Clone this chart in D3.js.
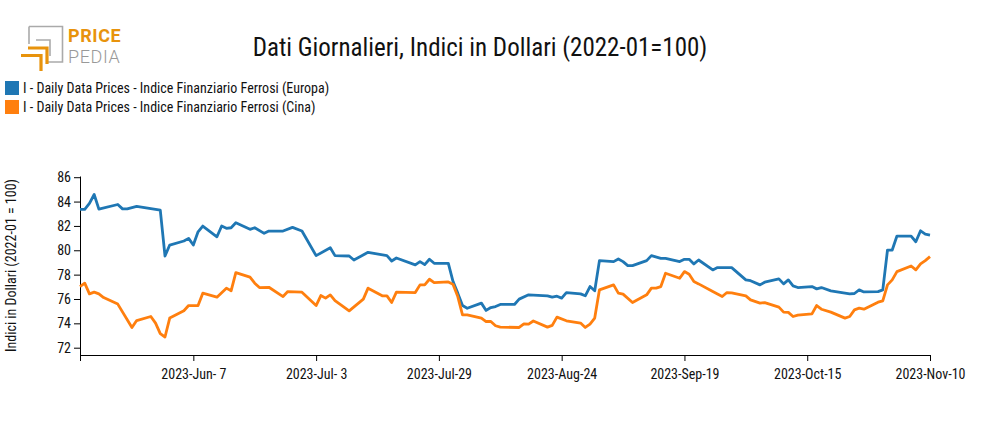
<!DOCTYPE html>
<html>
<head>
<meta charset="utf-8">
<script src="https://cdn.jsdelivr.net/npm/d3@7"></script>
<style>
  body { margin: 0; background: #fff; }
  svg { display: block; font-family: "Liberation Sans Narrow", "Roboto Condensed", "DejaVu Sans Condensed", sans-serif; }
</style>
</head>
<body>
<svg id="chart"></svg>
<script>
'use strict'

const WIDTH = 985;
const HEIGHT = 430;

const europeDates = [
  '2023-05-14','2023-05-15','2023-05-16','2023-05-17','2023-05-18','2023-05-22','2023-05-23','2023-05-24','2023-05-26','2023-05-31',
  '2023-06-01','2023-06-02','2023-06-05','2023-06-06','2023-06-07','2023-06-08','2023-06-09','2023-06-12','2023-06-13','2023-06-14',
  '2023-06-15','2023-06-16','2023-06-19','2023-06-20','2023-06-22','2023-06-23','2023-06-26','2023-06-28','2023-06-30','2023-07-03',
  '2023-07-06','2023-07-07','2023-07-10','2023-07-11','2023-07-14','2023-07-18','2023-07-19','2023-07-20','2023-07-24','2023-07-25',
  '2023-07-26','2023-07-27','2023-07-28','2023-07-31','2023-08-01','2023-08-02','2023-08-03','2023-08-04','2023-08-07','2023-08-08',
  '2023-08-09','2023-08-10','2023-08-11','2023-08-14','2023-08-15','2023-08-17','2023-08-21','2023-08-22','2023-08-23','2023-08-24',
  '2023-08-25','2023-08-28','2023-08-29','2023-08-30','2023-08-31','2023-09-01','2023-09-04','2023-09-05','2023-09-06','2023-09-07',
  '2023-09-08','2023-09-11','2023-09-12','2023-09-14','2023-09-15','2023-09-18','2023-09-19','2023-09-20','2023-09-21','2023-09-22',
  '2023-09-25','2023-09-26','2023-09-29','2023-10-02','2023-10-03','2023-10-05','2023-10-06','2023-10-09','2023-10-10','2023-10-11',
  '2023-10-12','2023-10-13','2023-10-16','2023-10-17','2023-10-18','2023-10-20','2023-10-24','2023-10-25','2023-10-26','2023-10-27',
  '2023-10-30','2023-10-31','2023-11-01','2023-11-02','2023-11-03','2023-11-06','2023-11-07','2023-11-08','2023-11-09','2023-11-10'
];
const europeValues = [
  83.36, 83.36, 83.85, 84.58, 83.38, 83.76, 83.40, 83.40, 83.60, 83.30,
  79.53, 80.43, 80.76, 80.98, 80.43, 81.52, 81.99, 81.11, 81.99, 81.80,
  81.85, 82.26, 81.72, 81.85, 81.39, 81.58, 81.58, 81.88, 81.58, 79.56,
  80.21, 79.56, 79.53, 79.20, 79.83, 79.56, 79.12, 79.37, 78.80, 79.07,
  78.82, 79.26, 78.93, 78.93, 77.43, 76.48, 75.46, 75.24, 75.66, 75.06,
  75.30, 75.38, 75.55, 75.55, 75.99, 76.34, 76.26, 76.15, 76.23, 76.07,
  76.53, 76.42, 76.26, 77.02, 76.67, 79.15, 79.07, 79.29, 79.07, 78.74,
  78.74, 79.15, 79.56, 79.34, 79.34, 79.07, 79.26, 79.26, 78.88, 79.20,
  78.39, 78.58, 78.58, 77.57, 77.50, 77.16, 77.38, 77.65, 77.24, 77.57,
  77.08, 76.94, 77.02, 76.83, 76.94, 76.67, 76.42, 76.45, 76.75, 76.58,
  76.61, 76.75, 80.02, 80.02, 81.17, 81.17, 80.70, 81.60, 81.33, 81.25
];

const chinaDates = [
  '2023-05-14','2023-05-15','2023-05-16','2023-05-17','2023-05-18','2023-05-19','2023-05-22','2023-05-25','2023-05-26','2023-05-29',
  '2023-05-30','2023-05-31','2023-06-01','2023-06-02','2023-06-05','2023-06-06','2023-06-08','2023-06-09','2023-06-12','2023-06-14',
  '2023-06-15','2023-06-16','2023-06-19','2023-06-20','2023-06-21','2023-06-23','2023-06-26','2023-06-27','2023-06-30','2023-07-03',
  '2023-07-04','2023-07-05','2023-07-06','2023-07-07','2023-07-10','2023-07-13','2023-07-14','2023-07-17','2023-07-18','2023-07-19',
  '2023-07-20','2023-07-24','2023-07-25','2023-07-26','2023-07-27','2023-07-28','2023-07-31','2023-08-01','2023-08-02','2023-08-03',
  '2023-08-04','2023-08-07','2023-08-08','2023-08-09','2023-08-10','2023-08-11','2023-08-15','2023-08-16','2023-08-17','2023-08-18',
  '2023-08-21','2023-08-22','2023-08-23','2023-08-25','2023-08-28','2023-08-29','2023-08-30','2023-08-31','2023-09-01','2023-09-04',
  '2023-09-05','2023-09-06','2023-09-08','2023-09-11','2023-09-12','2023-09-13','2023-09-14','2023-09-15','2023-09-18','2023-09-19',
  '2023-09-20','2023-09-21','2023-09-22','2023-09-25','2023-09-27','2023-09-28','2023-09-29','2023-10-02','2023-10-03','2023-10-05',
  '2023-10-06','2023-10-09','2023-10-10','2023-10-11','2023-10-12','2023-10-13','2023-10-16','2023-10-17','2023-10-18','2023-10-20',
  '2023-10-23','2023-10-24','2023-10-25','2023-10-26','2023-10-27','2023-10-30','2023-10-31','2023-11-01','2023-11-02','2023-11-03',
  '2023-11-06','2023-11-07','2023-11-08','2023-11-09','2023-11-10'
];
const chinaValues = [
  77.02, 77.30, 76.42, 76.56, 76.42, 76.12, 75.58, 73.66, 74.23, 74.56,
  74.02, 73.15, 72.88, 74.43, 75.03, 75.46, 75.46, 76.48, 76.15, 76.89,
  76.67, 78.17, 77.79, 77.30, 76.94, 76.96, 76.20, 76.61, 76.56, 75.46,
  76.28, 76.07, 76.34, 75.87, 75.03, 75.99, 76.89, 76.26, 76.26, 75.71,
  76.56, 76.53, 77.16, 77.16, 77.62, 77.35, 77.40, 77.20, 76.20, 74.70,
  74.70, 74.43, 74.15, 74.15, 73.80, 73.69, 73.66, 73.96, 73.93, 74.19,
  73.69, 73.83, 74.51, 74.21, 74.02, 73.66, 73.94, 74.43, 76.75, 77.16,
  76.48, 76.40, 75.71, 76.34, 76.89, 76.89, 77.02, 78.11, 77.70, 78.25,
  78.03, 77.43, 77.24, 76.61, 76.20, 76.53, 76.50, 76.26, 75.93, 75.66,
  75.70, 75.33, 74.92, 74.90, 74.56, 74.67, 74.78, 75.46, 75.16, 74.92,
  74.43, 74.56, 75.11, 75.25, 75.16, 75.74, 75.85, 77.16, 77.57, 78.25,
  78.71, 78.39, 78.88, 79.15, 79.48
];

const seriesNames = [
  'I - Daily Data Prices - Indice Finanziario Ferrosi (Europa)',
  'I - Daily Data Prices - Indice Finanziario Ferrosi (Cina)'
];
const seriesColors = ['#1f77b4', '#ff7f0e'];
const yTicks = [72, 74, 76, 78, 80, 82, 84, 86];
const xTickDates = ['2023-05-14','2023-06-07','2023-07-03','2023-07-29','2023-08-24','2023-09-19','2023-10-15','2023-11-10'];

const parse = d3.timeParse('%Y-%m-%d');
const series = [
  europeDates.map((d, i) => ({date: parse(d), value: europeValues[i]})),
  chinaDates.map((d, i) => ({date: parse(d), value: chinaValues[i]}))
];

const margin = {left: 80, right: 55, top: 176, bottom: 75};
const plotW = WIDTH - margin.left - margin.right;
const plotH = HEIGHT - margin.top - margin.bottom;

const svg = d3.select('#chart')
  .attr('width', WIDTH)
  .attr('height', HEIGHT);

// logo
const logo = svg.append('g');
logo.append('path')
  .attr('d', 'M29,26.5 H62.5 V62 H46 M29,26.5 V44')
  .attr('fill', 'none').attr('stroke', '#aaa').attr('stroke-width', 1.6);
logo.append('path')
  .attr('d', 'M36,40 H50 V56')
  .attr('fill', 'none').attr('stroke', '#aaa').attr('stroke-width', 1.6);
logo.append('path')
  .attr('d', 'M21,55.5 H41 V71')
  .attr('fill', 'none').attr('stroke', '#e8930c').attr('stroke-width', 3.2);
logo.append('path')
  .attr('d', 'M28,48 H47 V64')
  .attr('fill', 'none').attr('stroke', '#e8930c').attr('stroke-width', 3.2);
logo.append('text')
  .attr('x', 68).attr('y', 42)
  .attr('font-family', 'Roboto, sans-serif')
  .attr('font-size', 18).attr('letter-spacing', 0.6)
  .attr('font-weight', 'bold')
  .attr('fill', '#e8930c').text('PRICE');
logo.append('text')
  .attr('x', 68).attr('y', 63)
  .attr('font-family', 'Roboto, sans-serif')
  .attr('font-size', 18).attr('letter-spacing', 0.6)
  .attr('font-weight', 300)
  .attr('fill', '#999').text('PEDIA');

// title
svg.append('text')
  .attr('x', 480).attr('y', 56)
  .attr('text-anchor', 'middle')
  .attr('font-size', 25)
  .attr('fill', '#111')
  .text('Dati Giornalieri, Indici in Dollari (2022-01=100)');

// legend
const legend = svg.append('g').attr('transform', 'translate(5,81)');
seriesNames.forEach((name, i) => {
  const row = legend.append('g').attr('transform', 'translate(0,' + (i * 19) + ')');
  row.append('rect').attr('width', 14).attr('height', 14).attr('fill', seriesColors[i]);
  row.append('text').attr('x', 18).attr('y', 12)
    .attr('font-size', 14).attr('fill', '#111').text(name);
});

const xScale = d3.scaleTime()
  .domain([parse('2023-05-14'), parse('2023-11-10')])
  .range([margin.left, margin.left + plotW]);

const yScale = d3.scaleLinear()
  .domain([71.4, 86.1])
  .range([margin.top + plotH, margin.top]);

const fmt = d3.timeFormat('%Y-%b-%e');
const bottomAxis = d3.axisBottom(xScale)
  .tickValues(xTickDates.map(parse))
  .tickFormat((d, i) => i === 0 ? '' : fmt(d))
  .tickSizeOuter(0);

svg.append('g')
  .attr('id', 'bottom-axis')
  .attr('transform', 'translate(0,' + (margin.top + plotH) + ')')
  .call(bottomAxis)
  .call(g => g.selectAll('text').attr('font-size', 14).attr('fill', '#111').attr('dy', '1.05em'))
  .call(g => g.attr('font-family', null));

const leftAxis = d3.axisLeft(yScale).tickValues(yTicks).tickSizeOuter(0);
svg.append('g')
  .attr('id', 'left-axis')
  .attr('transform', 'translate(' + margin.left + ',0)')
  .call(leftAxis)
  .call(g => g.selectAll('text').attr('font-size', 14).attr('fill', '#111'))
  .call(g => g.attr('font-family', null));

svg.append('text')
  .attr('transform', 'translate(16,' + (margin.top + plotH / 2) + ') rotate(-90)')
  .attr('text-anchor', 'middle')
  .attr('font-size', 14)
  .attr('fill', '#111')
  .text('Indici in Dollari (2022-01 = 100)');

const line = d3.line()
  .x(d => xScale(d.date))
  .y(d => yScale(d.value));

svg.selectAll('path.series')
  .data(series)
  .enter()
  .append('path')
  .attr('class', 'series')
  .attr('d', line)
  .attr('fill', 'none')
  .attr('stroke', (d, i) => seriesColors[i])
  .attr('stroke-width', 2.8)
  .attr('stroke-linejoin', 'round');
</script>
</body>
</html>
